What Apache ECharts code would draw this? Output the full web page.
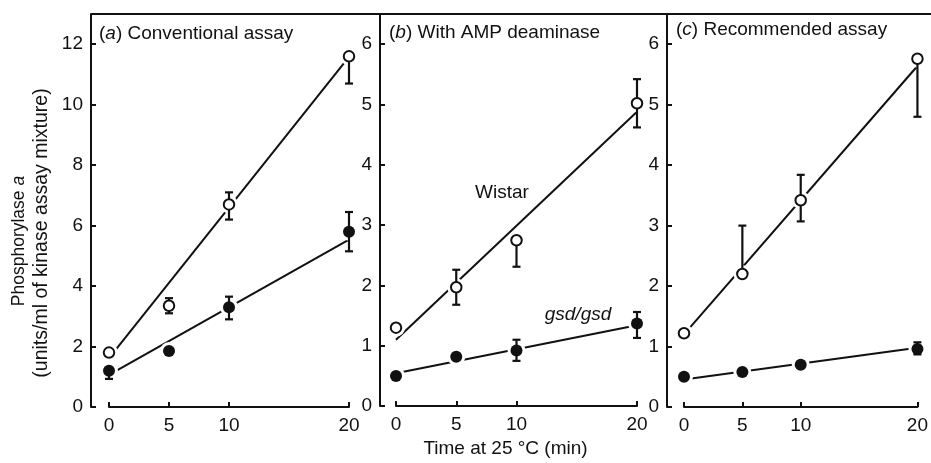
<!DOCTYPE html>
<html>
<head>
<meta charset="utf-8">
<script src="https://cdn.jsdelivr.net/npm/echarts@6/dist/echarts.min.js"></script>
<style>html,body{margin:0;padding:0;background:#fff}#c{width:931px;height:463px}</style>
</head>
<body>
<div id="c"></div>
<script>
// ---- data ----
const times = [0, 5, 10, 20];
const xTicks = [0, 5, 10, 20];
const yTicksA = [0, 2, 4, 6, 8, 10, 12];
const yTicksBC = [0, 1, 2, 3, 4, 5, 6];

// (a) Conventional assay
const aWistar = [1.8, 3.35, 6.7, 11.6];
const aWistarLo = [1.8, 3.1, 6.2, 10.7];
const aWistarHi = [1.8, 3.6, 7.1, 11.6];
const aGsd = [1.2, 1.85, 3.3, 5.8];
const aGsdLo = [0.93, 1.85, 2.9, 5.15];
const aGsdHi = [1.2, 1.85, 3.65, 6.45];
const aWistarFit = [[0, 1.62], [20, 11.58]];
const aGsdFit = [[0, 1.06], [20, 5.54]];

// (b) With AMP deaminase
const bWistar = [1.3, 1.97, 2.75, 5.02];
const bWistarLo = [1.3, 1.68, 2.31, 4.62];
const bWistarHi = [1.3, 2.26, 2.75, 5.42];
const bGsd = [0.5, 0.82, 0.92, 1.37];
const bGsdLo = [0.5, 0.82, 0.75, 1.13];
const bGsdHi = [0.5, 0.82, 1.1, 1.56];
const bWistarFit = [[0, 1.10], [20, 4.88]];
const bGsdFit = [[0, 0.545], [20, 1.34]];

// (c) Recommended assay
const cWistar = [1.22, 2.2, 3.42, 5.76];
const cWistarLo = [1.22, 2.2, 3.07, 4.8];
const cWistarHi = [1.22, 3.0, 3.84, 5.76];
const cGsd = [0.5, 0.58, 0.7, 0.96];
const cGsdLo = [0.5, 0.58, 0.7, 0.87];
const cGsdHi = [0.5, 0.58, 0.7, 1.07];
const cWistarFit = [[0, 1.20], [20, 5.64]];
const cGsdFit = [[0, 0.453], [20, 0.98]];

const panelTitles = [
  '({i|a}) Conventional assay',
  '({i|b}) With AMP deaminase',
  '({i|c}) Recommended assay'
];
const yMax = [13, 6.5, 6.5];
const xLabel = 'Time at 25 °C (min)';
const yLabel1 = 'Phosphorylase {i|a}';
const yLabel2 = '(units/ml of kinase assay mixture)';
const noteWistar = 'Wistar';
const noteGsd = 'gsd/gsd';

// ---- build chart ----
const FONT = '"Liberation Sans", Arial, Helvetica, sans-serif';
const INK = '#111';
const chart = echarts.init(document.getElementById('c'), null, {renderer: 'canvas'});

const grids = [
  {left: 109, top: 14, width: 240, height: 393},
  {left: 396, top: 14, width: 241, height: 393},
  {left: 684, top: 14, width: 241, height: 393}
];
const yOffsets = [18, 16, 17];

const xAxes = grids.map((g, i) => ({
  gridIndex: i, type: 'value', min: 0, max: 20, interval: 5,
  axisLine: {show: true, onZero: false, lineStyle: {color: INK, width: 2}},
  axisTick: {show: true, inside: true, length: 5, lineStyle: {color: INK, width: 2}, customValues: xTicks},
  axisLabel: {color: INK, fontSize: 19, fontFamily: FONT, margin: 9, customValues: xTicks},
  splitLine: {show: false},
  name: i === 1 ? xLabel : '',
  nameLocation: 'middle', nameGap: 32,
  nameTextStyle: {color: INK, fontSize: 19, fontFamily: FONT, padding: [0, 22, 0, 0]}
}));

const yAxes = grids.map((g, i) => ({
  gridIndex: i, type: 'value', min: 0, max: yMax[i], interval: i === 0 ? 2 : 1,
  offset: yOffsets[i],
  axisLine: {show: true, onZero: false, lineStyle: {color: INK, width: 2}},
  axisTick: {show: true, inside: true, length: 5, lineStyle: {color: INK, width: 2}, customValues: i === 0 ? yTicksA : yTicksBC},
  axisLabel: {color: INK, fontSize: 19, fontFamily: FONT, margin: 8, customValues: i === 0 ? yTicksA : yTicksBC},
  splitLine: {show: false}
}));

function pts(vals) { return times.map((t, k) => [t, vals[k]]); }
function errs(vals, lo, hi) { return times.map((t, k) => [t, vals[k], lo[k], hi[k]]); }

function errRender(params, api) {
  const x = api.value(0), v = api.value(1), lo = api.value(2), hi = api.value(3);
  const pv = api.coord([x, v]);
  const children = [];
  const capW = 4;
  const style = {stroke: INK, lineWidth: 2.2};
  if (hi > v) {
    const ph = api.coord([x, hi]);
    children.push({type: 'line', shape: {x1: pv[0], y1: pv[1], x2: ph[0], y2: ph[1]}, style});
    children.push({type: 'line', shape: {x1: ph[0] - capW, y1: ph[1], x2: ph[0] + capW, y2: ph[1]}, style});
  }
  if (lo < v) {
    const pl = api.coord([x, lo]);
    children.push({type: 'line', shape: {x1: pv[0], y1: pv[1], x2: pl[0], y2: pl[1]}, style});
    children.push({type: 'line', shape: {x1: pl[0] - capW, y1: pl[1], x2: pl[0] + capW, y2: pl[1]}, style});
  }
  return {type: 'group', children};
}

const panels = [
  {w: aWistar, wl: aWistarLo, wh: aWistarHi, g: aGsd, gl: aGsdLo, gh: aGsdHi, wf: aWistarFit, gf: aGsdFit},
  {w: bWistar, wl: bWistarLo, wh: bWistarHi, g: bGsd, gl: bGsdLo, gh: bGsdHi, wf: bWistarFit, gf: bGsdFit},
  {w: cWistar, wl: cWistarLo, wh: cWistarHi, g: cGsd, gl: cGsdLo, gh: cGsdHi, wf: cWistarFit, gf: cGsdFit}
];

const series = [];
panels.forEach((p, i) => {
  const ax = {xAxisIndex: i, yAxisIndex: i};
  [p.wf, p.gf].forEach(fit => series.push(Object.assign({
    type: 'line', data: fit, symbol: 'none', z: 2, silent: true,
    lineStyle: {color: INK, width: 2}
  }, ax)));
  [p.w, p.g].forEach(vals => series.push(Object.assign({
    type: 'scatter', data: pts(vals), symbol: 'circle', symbolSize: 18, z: 3, silent: true,
    itemStyle: {color: '#fff', opacity: 1}
  }, ax)));
  series.push(Object.assign({type: 'custom', data: errs(p.w, p.wl, p.wh), renderItem: errRender, z: 4, silent: true}, ax));
  series.push(Object.assign({type: 'custom', data: errs(p.g, p.gl, p.gh), renderItem: errRender, z: 4, silent: true}, ax));
  series.push(Object.assign({
    type: 'scatter', data: pts(p.w), symbol: 'circle', symbolSize: 10.5, z: 5, silent: true,
    itemStyle: {color: '#fff', borderColor: INK, borderWidth: 2, opacity: 1}
  }, ax));
  series.push(Object.assign({
    type: 'scatter', data: pts(p.g), symbol: 'circle', symbolSize: 12, z: 5, silent: true,
    itemStyle: {color: INK, opacity: 1}
  }, ax));
});

const richI = {i: {fontStyle: 'italic', fontSize: 19, fontFamily: FONT, color: INK}};
const titles = [
  {text: panelTitles[0], left: 99, top: 24},
  {text: panelTitles[1], left: 389, top: 23},
  {text: panelTitles[2], left: 676, top: 20}
].map(t => Object.assign(t, {
  textStyle: {color: INK, fontSize: 19, fontWeight: 'normal', fontFamily: FONT, rich: richI},
  padding: 0
}));

const option = {
  backgroundColor: '#fff',
  animation: false,
  title: titles,
  grid: grids,
  xAxis: xAxes,
  yAxis: yAxes,
  series,
  graphic: [
    {type: 'line', shape: {x1: 91, y1: 14, x2: 931, y2: 14}, style: {stroke: INK, lineWidth: 2}, z: 10},
    {type: 'text', x: 19, y: 241, rotation: Math.PI / 2,
      style: {text: yLabel1, fill: INK, font: '17.5px ' + FONT, align: 'center', verticalAlign: 'middle',
        rich: {i: {fontStyle: 'italic', fontSize: 17.5, fontFamily: FONT, fill: INK}}}},
    {type: 'text', x: 42, y: 233, rotation: Math.PI / 2,
      style: {text: yLabel2, fill: INK, font: '19.5px ' + FONT, align: 'center', verticalAlign: 'middle'}},
    {type: 'text', x: 502, y: 193,
      style: {text: noteWistar, fill: INK, font: '19px ' + FONT, align: 'center', verticalAlign: 'middle'}},
    {type: 'text', x: 578, y: 315,
      style: {text: noteGsd, fill: INK, font: 'italic 19px ' + FONT, align: 'center', verticalAlign: 'middle'}}
  ]
};
chart.setOption(option);
</script>
</body>
</html>
